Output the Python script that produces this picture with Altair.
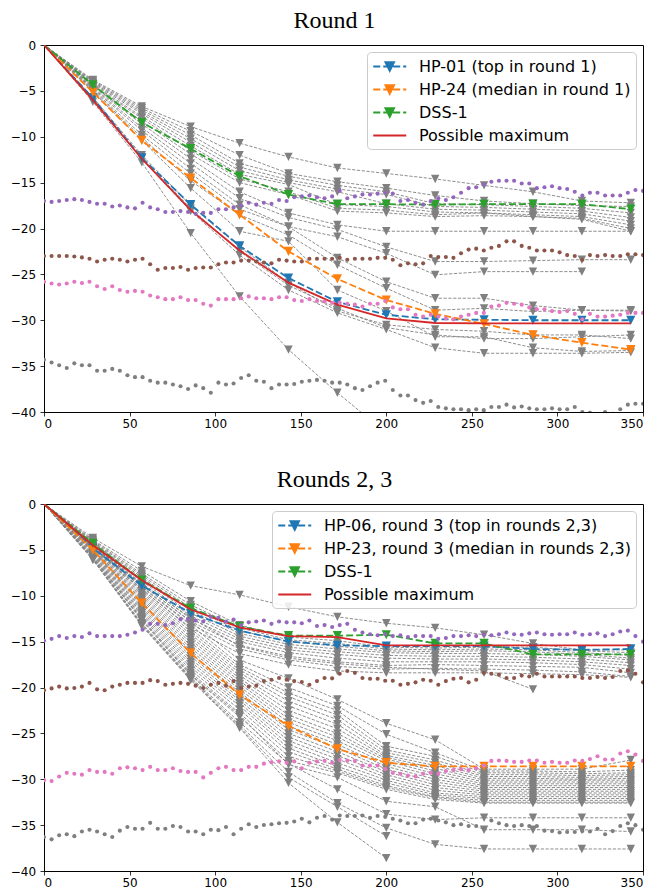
import altair as alt
import pandas as pd
import numpy as np

N = None
X_STEPS = [0.0, 28.57, 57.14, 85.71, 114.29, 142.86, 171.43, 200.0, 228.57, 257.14, 285.71, 314.29, 342.86]
X_TICKS = [0, 50, 100, 150, 200, 250, 300, 350]
Y_TICKS = [0, -5, -10, -15, -20, -25, -30, -35, -40]

# ---------------- Round 1 ----------------
R1_GRAY = [
    [0, -3.8, -6.7, -8.9, -10.7, -12.2, -13.4, -14.0, -14.6, -15.3, -16.0, -17.0, -17.2],
    [0, -3.9, -6.9, -9.4, -12.0, -14.0, -14.9, -15.6, -16.4, -17.0, -17.3, -17.5, -17.6],
    [0, -4.0, -7.1, -9.8, -12.9, -14.3, -15.3, -16.0, -17.3, -17.4, -17.6, -17.8, -18.3],
    [0, -4.1, -7.3, -10.2, -13.3, -14.7, -15.7, -16.3, -17.6, -17.7, -17.9, -18.1, -18.8],
    [0, -4.2, -7.5, -10.6, -13.7, -15.0, -16.0, -17.3, -17.9, -18.0, -18.2, -18.4, -19.2],
    [0, -4.3, -7.8, -11.0, -14.1, -15.2, -17.4, -17.6, -18.2, -18.3, -18.5, -18.7, -19.6],
    [0, -4.4, -8.0, -11.5, -14.6, -16.0, -17.8, -18.0, -18.5, -18.3, -18.7, -18.9, -20.0],
    [0, -4.5, -8.3, -11.9, -15.0, -16.3, -18.1, -18.3, -18.7, -18.6, -18.7, -19.0, -20.3],
    [0, -4.6, -8.6, -12.4, -16.0, -18.3, -19.6, -20.3, -20.3, -20.3, -20.3, -20.3, -20.3],
    [0, -4.7, -9.0, -12.9, -16.7, -18.8, -20.1, -22.0, -23.6, -23.6, -23.5, -23.4, -23.4],
    [0, -4.8, -9.3, -13.5, -17.4, -19.8, -20.9, -22.7, -25.05, -24.7, -24.7, -24.7, N],
    [0, -4.9, -9.8, -14.0, -17.9, -19.8, -23.2, -25.8, -27.6, -27.6, -28.4, -28.9, -28.9],
    [0, -5.0, -10.1, -14.8, -18.5, -20.7, -23.95, -26.5, -28.9, -28.7, -29.05, -28.9, -29.0],
    [0, -5.1, -10.4, -15.6, -20.3, -21.4, -26.7, -29.0, -31.8, -31.8, -33.0, -33.4, -33.3],
    [0, -5.9, -12.4, -18.1, -22.9, -26.7, -29.2, -31.0, -33.0, -33.6, -33.6, -33.6, -33.5],
    [0, -5.8, -12.3, -17.8, -22.5, -26.2, -28.7, -30.8, -31.6, -32.0, -32.0, -31.8, -31.6],
    [0, -5.7, -12.0, -17.5, -22.0, -25.9, -29.0, -30.5, -31.0, -31.2, -31.6, -31.6, -32.0],
    [0, -6.2, -12.8, -20.5, -27.4, -33.2, -37.9, -42.3, N, N, N, N, N],
]
R1_LABELS = ["HP-01 (top in round 1)", "HP-24 (median in round 1)", "DSS-1", "Possible maximum"]
R1_TOP = [0, -5.8, -12.3, -17.4, -21.9, -25.4, -28.0, -29.4, -29.9, -29.95, -30.0, -30.0, -30.0]
R1_MEDIAN = [0, -5.15, -10.4, -14.5, -18.5, -22.5, -25.5, -27.8, -29.3, -30.4, -31.6, -32.45, -33.2]
R1_DSS = [0, -4.35, -8.45, -11.3, -14.3, -16.3, -17.35, -17.35, -17.4, -17.35, -17.35, -17.35, -17.9]
R1_MAX = [0, -6.0, -12.4, -18.0, -22.4, -25.9, -28.3, -29.8, -30.3, -30.35, -30.35, -30.35, -30.35]

R1_PURPLE = [-17.0, -17.1, -17.0, -16.9, -16.8, -16.9, -17.1, -17.3, -17.3, -17.6, -17.5, -17.7, -17.8,
             -17.2, -17.7, -17.9, -18.2, -18.2, -18.1, -18.2, -18.4, -18.3, -18.3, -17.9, -17.9, -17.7,
             -17.5, -17.2, -17.4, -17.2, -17.3, -16.9, -17.0, -16.6, -16.5, -16.4, -16.6, -16.7, -16.5,
             -15.9, -16.7, -16.5, -16.3, -16.3, -16.2, -16.1, -16.2, -17.0, -16.9, -17.2, -17.4, -17.0,
             -16.7, -16.9, -16.6, -16.1, -15.6, -15.5, -15.2, -14.9, -14.8, -14.8, -14.8, -15.1, -15.1,
             -15.6, -15.5, -15.4, -15.6, -15.7, -16.0, -16.4, -16.1, -16.1, -16.4, -16.4, -16.4, -16.1,
             -15.8, -15.9]
R1_BROWN = [-23.0, -23.0, -23.0, -23.0, -23.05, -23.15, -23.3, -23.6, -23.4, -23.3, -23.4, -23.6, -23.4,
            -23.3, -23.9, -24.5, -24.3, -24.3, -24.2, -24.5, -24.3, -24.25, -24.25, -23.9, -23.7, -23.7,
            -23.5, -23.5, -23.6, -23.7, -23.8, -23.4, -23.5, -23.6, -23.6, -23.3, -23.3, -23.3, -23.3,
            -23.2, -23.4, -23.3, -23.3, -23.3, -23.2, -23.2, -23.4, -24.0, -23.8, -23.9, -23.8, -23.0,
            -23.1, -23.1, -23.2, -22.7, -22.3, -22.2, -22.4, -22.1, -21.9, -21.4, -21.4, -21.9, -22.1,
            -22.4, -22.4, -22.4, -22.6, -22.9, -23.0, -23.4, -22.9, -23.0, -22.9, -23.0, -23.0, -22.8,
            -22.8, -22.9]
R1_PINK = [-25.8, -26.0, -26.1, -26.0, -25.8, -25.95, -25.8, -26.3, -26.6, -26.3, -26.7, -26.9, -26.8,
           -26.9, -27.3, -27.5, -27.7, -27.7, -27.5, -27.8, -27.8, -28.2, -28.4, -27.7, -27.7, -27.7,
           -27.6, -27.4, -27.6, -27.6, -27.7, -27.5, -27.5, -27.8, -27.9, -27.7, -27.9, -27.95, -28.1,
           -28.1, -28.2, -28.3, -28.5, -28.2, -28.2, -27.9, -28.6, -28.8, -28.8, -29.4, -29.6, -29.4,
           -29.6, -29.8, -29.9, -29.6, -29.4, -29.2, -29.2, -28.5, -28.4, -28.1, -28.2, -28.3, -28.6,
           -28.8, -28.8, -29.0, -29.1, -29.0, -29.3, -29.9, -29.3, -29.6, -29.6, -29.5, -29.4, -29.2,
           -29.2, -29.2]
R1_GREYDOTS = [-34.3, -34.6, -34.9, -35.2, -34.7, -34.9, -34.9, -35.5, -35.5, -35.3, -35.5, -36.0, -36.2,
               -36.2, -36.6, -36.8, -36.8, -37.0, -37.2, -37.5, -37.1, -37.4, -37.9, -36.8, -37.0, -36.9,
               -36.3, -36.0, -36.6, -36.7, -37.4, -37.0, -37.0, -36.95, -36.7, -36.6, -36.5, -36.6, -36.8,
               -36.8, -37.0, -37.4, -37.6, -37.2, -36.8, -36.6, -37.6, -38.2, -38.2, -38.7, -39.0, -38.8,
               -39.45, -39.6, -39.7, -39.7, -39.8, -39.7, -39.8, -39.45, -39.45, -39.2, -39.5, -39.4, -39.6,
               -39.7, -39.7, -39.6, -39.7, -39.7, -39.45, -40.0, -40.1, -40.3, -40.0, -40.2, -39.7, -39.2,
               -39.1, -39.1]

# ---------------- Rounds 2, 3 ----------------
R2_GRAY = [
    [0, -3.7, -6.8, -8.9, -9.9, -11.2, -12.3, -13.0, -13.5, -14.25, -15.2, -15.9, -15.9],
    [0, -3.9, -7.3, -10.6, -13.2, -14.5, -14.9, -15.6, -15.7, -15.6, -15.6, -16.0, -16.2],
    [0, -4.0, -7.6, -11.0, -13.5, -14.8, -15.2, -15.8, -15.9, -15.8, -15.9, -16.2, -16.5],
    [0, -4.1, -7.8, -11.3, -13.8, -15.0, -15.5, -16.0, -16.1, -16.0, -16.1, -16.4, -16.8],
    [0, -4.2, -8.0, -11.6, -14.1, -15.3, -15.8, -16.2, -16.3, -16.3, -16.4, -16.6, -17.0],
    [0, -4.3, -8.2, -11.9, -14.4, -15.6, -16.1, -16.5, -16.6, -16.6, -16.7, -16.9, -17.3],
    [0, -4.4, -8.4, -12.2, -14.7, -15.9, -16.4, -16.8, -16.9, -16.9, -17.0, -17.2, -17.6],
    [0, -4.5, -8.6, -12.5, -15.0, -16.2, -16.8, -17.2, -17.2, -17.2, -17.3, -17.5, -18.0],
    [0, -4.6, -8.8, -12.8, -15.4, -16.6, -17.2, -17.6, -17.5, -17.6, -17.7, -17.8, -18.4],
    [0, -4.7, -9.0, -13.1, -15.8, -17.0, -17.7, -18.0, -17.9, -18.0, -18.1, -18.3, -18.8],
    [0, -4.8, -9.3, -13.5, -16.3, -17.5, -18.2, -18.4, -18.4, -18.4, -18.5, -18.6, -18.9],
    [0, -4.6, -8.7, -12.4, -15.5, -16.8, -17.4, -17.8, -18.0, -18.2, -20.2, N, N],
    [0, -4.4, -8.8, -12.8, -17.0, -19.0, -21.3, -23.9, -25.7, -28.9, -28.9, -28.9, -27.9],
    [0, -4.5, -9.1, -13.2, -17.5, -20.0, -22.0, -25.1, -27.1, -29.1, -29.1, -29.2, -29.0],
    [0, -4.5, -9.3, -13.6, -17.8, -20.6, -22.5, -26.4, -27.5, -29.3, -29.3, -29.4, -29.3],
    [0, -4.6, -9.5, -13.9, -18.1, -21.0, -23.0, -26.8, -27.9, -29.5, -29.5, -29.6, -29.5],
    [0, -4.6, -9.7, -14.2, -18.4, -21.5, -23.5, -27.1, -28.2, -29.7, -29.7, -29.8, -29.7],
    [0, -4.7, -9.9, -14.5, -18.7, -22.0, -24.0, -27.4, -28.5, -29.9, -29.9, -30.0, -29.9],
    [0, -4.7, -10.1, -14.8, -19.0, -22.5, -24.5, -27.6, -28.8, -30.1, -30.1, -30.1, -30.1],
    [0, -4.8, -10.3, -15.1, -19.3, -23.0, -25.0, -27.8, -29.1, -30.3, -30.3, -30.3, -30.3],
    [0, -4.8, -10.5, -15.4, -19.6, -23.4, -25.4, -28.0, -29.4, -30.5, -30.5, -30.5, -30.5],
    [0, -4.9, -10.7, -15.7, -19.9, -23.8, -25.8, -28.3, -29.7, -30.7, -30.7, -30.7, -30.7],
    [0, -5.0, -10.9, -16.0, -20.2, -24.2, -26.2, -28.6, -30.0, -30.9, -30.9, -30.9, -30.9],
    [0, -5.0, -11.1, -16.3, -20.5, -24.6, -26.6, -28.9, -30.3, -31.1, -31.1, -31.1, -31.1],
    [0, -5.1, -11.3, -16.6, -20.8, -25.0, -27.0, -29.2, -30.6, -31.3, -31.3, -31.3, -31.3],
    [0, -5.2, -11.5, -16.9, -21.1, -25.4, -27.4, -29.5, -30.9, -31.5, -31.5, -31.5, -31.5],
    [0, -5.3, -11.7, -17.2, -21.4, -25.8, -27.8, -29.8, -31.2, -31.7, -31.7, -31.7, -31.7],
    [0, -5.4, -11.9, -17.5, -21.7, -26.2, -28.2, -30.1, -31.5, -31.9, -31.9, -31.9, -31.9],
    [0, -5.5, -12.1, -17.8, -22.0, -26.6, -28.6, -30.4, -31.7, -32.1, -32.1, -32.1, -32.1],
    [0, -5.6, -12.3, -18.1, -22.4, -27.0, -28.9, -30.7, -31.9, -32.3, -32.3, -32.3, -32.3],
    [0, -5.7, -12.5, -18.4, -22.8, -27.5, -29.1, -30.9, -32.0, -32.5, -32.5, -32.5, -32.5],
    [0, -5.8, -12.7, -18.7, -23.2, -28.0, -29.3, -31.1, -32.2, -32.6, -32.6, -32.6, -32.6],
    [0, -5.9, -13.0, -18.9, -23.8, -28.3, -31.1, -33.8, -34.4, -34.2, -34.2, -34.2, -34.2],
    [0, -6.0, -13.1, -19.0, -24.1, -29.2, -32.6, -35.3, -37.1, -37.6, -37.6, -37.6, -37.6],
    [0, -6.0, -13.2, -19.1, -24.3, -29.8, -33.0, -36.2, N, N, N, N, N],
    [0, -6.1, -13.3, -19.2, -24.4, -30.4, -34.7, -38.6, N, N, N, N, N],
    [0, -5.8, -12.6, -18.6, -23.0, -28.4, -29.8, -32.4, -33.0, -35.5, -35.5, -35.5, -35.7],
]
R2_LABELS = ["HP-06, round 3 (top in rounds 2,3)", "HP-23, round 3 (median in rounds 2,3)",
             "DSS-1", "Possible maximum"]
R2_TOP = [0, -4.8, -8.9, -11.9, -13.8, -15.0, -15.4, -15.5, -15.5, -15.5, -15.8, -15.9, -15.8]
R2_MEDIAN = [0, -5.0, -10.8, -16.25, -20.8, -24.2, -26.7, -28.2, -28.6, -28.6, -28.6, -28.6, -28.6]
R2_DSS = [0, -4.3, -8.3, -11.35, -13.35, -14.35, -14.35, -14.25, -15.2, -15.2, -16.4, -16.4, -16.4]
R2_MAX = [0, -4.5, -8.3, -11.5, -13.45, -14.4, -14.5, -15.4, -15.4, -15.4, -15.4, -15.4, -15.4]

R2_PURPLE = [-14.9, -14.7, -14.4, -14.6, -14.4, -14.5, -14.1, -14.4, -14.4, -14.4, -14.4, -14.25, -14.0,
             -13.7, -13.06, -13.06, -13.2, -13.0, -12.55, -12.55, -12.7, -12.8, -12.3, -12.4, -12.8, -12.6,
             -13.2, -12.9, -12.8, -12.7, -13.06, -12.8, -12.9, -12.9, -13.0, -12.7, -13.3, -13.2, -13.4,
             -13.2, -13.06, -13.7, -14.0, -14.2, -14.3, -14.2, -14.4, -14.3, -14.5, -14.4, -14.4, -14.4,
             -14.7, -14.6, -14.4, -14.4, -14.3, -14.4, -14.25, -14.3, -14.2, -14.0, -14.2, -14.25, -14.1,
             -14.0, -14.2, -14.25, -14.2, -14.2, -14.0, -14.25, -14.2, -14.1, -14.4, -14.2, -13.9, -13.8,
             -14.4, -15.0]
R2_BROWN = [-20.3, -20.1, -19.9, -20.1, -20.06, -19.9, -19.5, -20.2, -20.3, -19.9, -19.7, -19.5, -19.5,
            -19.5, -19.2, -19.3, -19.7, -19.6, -19.5, -19.6, -19.8, -20.05, -19.7, -19.5, -19.8, -19.3,
            -20.06, -19.9, -19.8, -19.3, -19.15, -18.97, -19.15, -19.3, -19.4, -19.7, -19.3, -18.97, -19.0,
            -18.5, -18.2, -18.4, -18.97, -19.04, -19.04, -19.26, -19.26, -19.7, -19.6, -19.44, -19.15, -19.26,
            -19.7, -19.3, -19.04, -18.97, -19.44, -19.15, -18.4, -18.5, -18.6, -18.97, -18.97, -18.7, -18.8,
            -18.5, -18.8, -18.8, -18.8, -18.8, -18.8, -18.97, -18.97, -18.86, -18.97, -18.86, -18.2, -18.14,
            -18.5, -19.44]
R2_PINK = [-30.1, -30.2, -29.7, -29.3, -29.4, -29.5, -29.0, -29.2, -29.2, -29.4, -28.8, -28.7, -28.8,
           -29.0, -28.65, -29.0, -29.0, -28.8, -29.1, -29.2, -29.2, -29.8, -29.3, -28.8, -28.65, -29.0,
           -29.0, -28.65, -28.65, -28.3, -28.15, -28.05, -28.2, -28.05, -28.8, -28.2, -28.05, -27.99, -28.2,
           -27.9, -27.95, -28.0, -28.5, -28.5, -28.5, -28.9, -29.3, -29.4, -29.6, -29.7, -29.4, -29.3,
           -29.4, -29.1, -29.0, -28.9, -29.0, -28.8, -28.5, -28.0, -27.95, -28.0, -28.1, -28.1, -27.95,
           -27.95, -28.2, -28.1, -28.2, -28.2, -27.95, -28.0, -27.8, -27.5, -27.85, -27.85, -27.2, -26.95,
           -27.3, -28.0]
R2_GREYDOTS = [-36.3, -36.55, -36.1, -36.0, -36.2, -35.7, -35.5, -35.7, -36.0, -36.3, -35.6, -35.2, -35.4,
               -35.4, -34.75, -35.4, -35.4, -35.1, -35.2, -35.7, -35.7, -36.0, -35.5, -35.55, -35.2, -36.0,
               -35.4, -34.9, -35.2, -34.99, -34.9, -34.8, -34.75, -34.6, -34.3, -34.7, -34.2, -34.0, -34.4,
               -33.95, -34.0, -34.0, -33.95, -34.2, -34.0, -34.1, -34.3, -34.5, -34.8, -34.8, -34.4, -34.3,
               -34.5, -34.7, -35.0, -34.9, -35.1, -35.1, -35.4, -34.5, -34.8, -35.0, -35.1, -35.0, -35.1,
               -35.1, -35.6, -35.65, -35.8, -35.75, -35.75, -35.65, -35.7, -35.4, -36.0, -35.65, -35.1, -34.8,
               -35.0, -35.5]

# ---------------- styling ----------------
C_BLUE, C_ORANGE, C_GREEN, C_RED = "#1f77b4", "#ff7f0e", "#2ca02c", "#d62728"
C_PURPLE, C_BROWN, C_PINK, C_GREY = "#9467bd", "#8c564b", "#e377c2", "#7f7f7f"
TRI = "M-1,-1L1,-1L0,1Z"
DASH = [7, 3]
LEG_DASHED = ("M-1,0L-0.15,0M0.21,0L1.06,0M1.42,0L2.27,0M2.63,0L3,0"
              "M0.47,-0.53L1.53,-0.53L1,0.53Z")
LEG_SOLID = "M-1,0L3,0"

XS = alt.X("x:Q", scale=alt.Scale(domain=[0, 350], nice=False, zero=False),
           axis=alt.Axis(values=X_TICKS, title=None))
YS = alt.Y("y:Q", scale=alt.Scale(domain=[-40, 0], nice=False, zero=False),
           axis=alt.Axis(values=Y_TICKS, title=None))


def lines_df(lines):
    rows = []
    for i, vals in enumerate(lines):
        for x, v in zip(X_STEPS, vals):
            if v is not None:
                rows.append({"id": i, "x": x, "y": v})
    return pd.DataFrame(rows)


def dots_df(vals):
    return pd.DataFrame({"x": np.linspace(0, 350, len(vals)), "y": vals})


def panel(title, gray, top, median, dss, mx, dots, labels):
    layers = []
    gdf = lines_df(gray)
    layers.append(alt.Chart(gdf).mark_line(color="#808080", strokeWidth=0.9, strokeDash=[3.2, 1.6],
                                           clip=True).encode(x=XS, y=YS, detail="id:N"))
    layers.append(alt.Chart(gdf[gdf.x > 0]).mark_point(shape=TRI, filled=True, color="#808080", size=70,
                                                       opacity=1, clip=True).encode(x=XS, y=YS))
    for vals, col in [(top, C_BLUE), (median, C_ORANGE), (dss, C_GREEN)]:
        d = lines_df([vals])
        layers.append(alt.Chart(d).mark_line(color=col, strokeWidth=1.8, strokeDash=DASH,
                                             clip=True).encode(x=XS, y=YS))
        layers.append(alt.Chart(d[d.x > 0]).mark_point(shape=TRI, filled=True, color=col, size=85,
                                                       opacity=1, clip=True).encode(x=XS, y=YS))
    layers.append(alt.Chart(lines_df([mx])).mark_line(color=C_RED, strokeWidth=1.8,
                                                      clip=True).encode(x=XS, y=YS))
    for vals, col in dots:
        layers.append(alt.Chart(dots_df(vals)).mark_circle(color=col, size=17, opacity=1,
                                                           clip=True).encode(x=XS, y=YS))
    leg = pd.DataFrame({"series": labels, "x": [0.0] * 4, "y": [0.0] * 4})
    colors = [C_BLUE, C_ORANGE, C_GREEN, C_RED]
    shapes = [LEG_DASHED, LEG_DASHED, LEG_DASHED, LEG_SOLID]
    lg = alt.Legend(title=None, orient="top-right", offset=7)
    layers.append(alt.Chart(leg).mark_point(size=0, filled=True, strokeWidth=1.8, opacity=1).encode(
        x=XS, y=YS,
        fill=alt.Fill("series:N", scale=alt.Scale(domain=labels, range=colors), legend=lg),
        stroke=alt.Stroke("series:N", scale=alt.Scale(domain=labels, range=colors), legend=lg),
        shape=alt.Shape("series:N", scale=alt.Scale(domain=labels, range=shapes), legend=lg),
    ))
    return alt.layer(*layers).properties(
        width=599, height=367,
        title=alt.TitleParams(title, font="Liberation Serif", fontSize=24, fontWeight="normal",
                              color="black", anchor="middle", offset=6, dx=-9))


top = panel("Round 1", R1_GRAY, R1_TOP, R1_MEDIAN, R1_DSS, R1_MAX,
            [(R1_PURPLE, C_PURPLE), (R1_BROWN, C_BROWN), (R1_PINK, C_PINK), (R1_GREYDOTS, C_GREY)],
            R1_LABELS)
bottom = panel("Rounds 2, 3", R2_GRAY, R2_TOP, R2_MEDIAN, R2_DSS, R2_MAX,
               [(R2_PURPLE, C_PURPLE), (R2_BROWN, C_BROWN), (R2_PINK, C_PINK), (R2_GREYDOTS, C_GREY)],
               R2_LABELS)

chart = alt.vconcat(top, bottom, spacing=37).resolve_scale(
    fill="independent", stroke="independent", shape="independent"
).properties(
    padding={"left": 1, "top": 0, "right": 0, "bottom": 0}
).configure_axis(
    labelFont="DejaVu Sans", labelFontSize=12, labelColor="black", tickColor="black",
    domainColor="black", tickSize=4, tickWidth=0.8, domainWidth=0.8, grid=False,
).configure_axisX(labelPadding=2).configure_axisY(labelPadding=4.4).configure_view(
    stroke="black", strokeWidth=1
).configure_legend(
    labelFont="DejaVu Sans", labelFontSize=16, labelColor="black", labelLimit=600,
    symbolSize=272, labelOffset=28, fillColor="rgba(255,255,255,0.85)", strokeColor="#cccccc",
    cornerRadius=4, padding=5, rowPadding=5, symbolStrokeWidth=1.8,
)

chart.save("out.html", embed_options={"renderer": "svg", "actions": False})
